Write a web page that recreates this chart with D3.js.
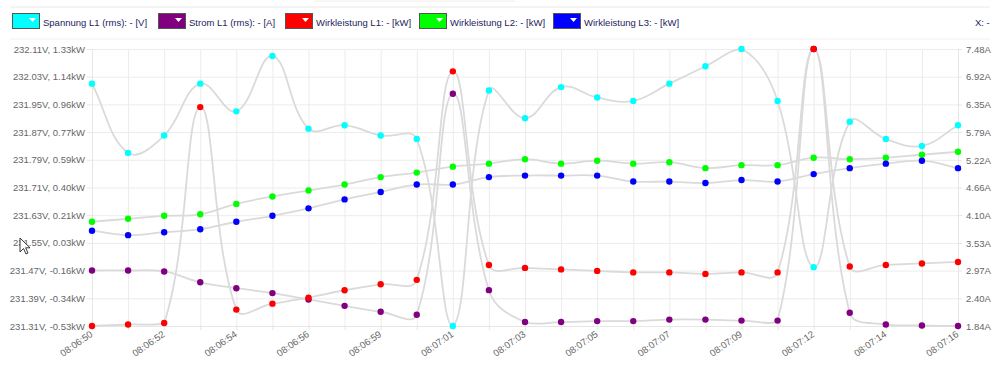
<!DOCTYPE html>
<html>
<head>
<meta charset="utf-8">
<script src="https://cdn.jsdelivr.net/npm/d3@7"></script>
<style>
  body { margin: 0; background: #fff; }
  svg { display: block; font-family: "Liberation Sans", Arial, sans-serif; }
  .axis path, .axis line { stroke: #e6e6e6; }
  .axis text { fill: #666; font-size: 9.5px; }
  .grid line { stroke: #ececec; }
  .grid path { display: none; }
</style>
</head>
<body>
<div id="chart"></div>
<script>
// Zeitstempel der Messpunkte
const times = ["08:06:50", "08:06:51", "08:06:52", "08:06:53", "08:06:54", "08:06:55", "08:06:56",
    "08:06:58", "08:06:59", "08:07:00", "08:07:01", "08:07:02", "08:07:03", "08:07:04", "08:07:05",
    "08:07:06", "08:07:07", "08:07:08", "08:07:09", "08:07:11", "08:07:12", "08:07:13", "08:07:14",
    "08:07:15", "08:07:16"];

const spannungL1 = [232.01, 231.81, 231.86, 232.01, 231.93, 232.09, 231.88, 231.89, 231.86, 231.85, 231.31,
    231.99, 231.91, 232.00, 231.97, 231.96, 232.01, 232.06, 232.11, 231.96, 231.48, 231.90, 231.85, 231.83, 231.89];
const stromL1 = [2.97, 2.97, 2.95, 2.73, 2.61, 2.51, 2.38, 2.25, 2.13, 2.07, 6.57, 2.57, 1.92, 1.92, 1.94,
    1.94, 1.97, 1.97, 1.95, 1.95, 7.48, 2.11, 1.87, 1.85, 1.84];
const wirkL1 = [-0.53, -0.52, -0.51, 0.94, -0.42, -0.38, -0.34, -0.29, -0.25, -0.22, 1.18, -0.12, -0.14,
    -0.15, -0.16, -0.17, -0.17, -0.18, -0.17, -0.17, 1.33, -0.13, -0.12, -0.11, -0.10];
const wirkL2 = [0.17, 0.19, 0.21, 0.22, 0.29, 0.34, 0.38, 0.42, 0.47, 0.50, 0.54, 0.56, 0.59, 0.56, 0.58,
    0.56, 0.57, 0.53, 0.55, 0.55, 0.60, 0.59, 0.60, 0.62, 0.64];
const wirkL3 = [0.11, 0.08, 0.10, 0.12, 0.17, 0.21, 0.26, 0.32, 0.37, 0.42, 0.42, 0.47, 0.48, 0.48, 0.48,
    0.44, 0.44, 0.43, 0.45, 0.44, 0.49, 0.53, 0.56, 0.58, 0.53];

// Achsenbeschriftungen
const voltTicks = [231.31, 231.39, 231.47, 231.55, 231.63, 231.71, 231.79, 231.87, 231.95, 232.03, 232.11];
const kwLabels = ["-0.53", "-0.34", "-0.16", "0.03", "0.21", "0.40", "0.59", "0.77", "0.96", "1.14", "1.33"];
const ampTicks = [1.84, 2.40, 2.97, 3.53, 4.10, 4.66, 5.22, 5.79, 6.35, 6.92, 7.48];

const legendItems = [
    { label: "Spannung L1 (rms): - [V]", color: "#00ffff" },
    { label: "Strom L1 (rms): - [A]", color: "#800080" },
    { label: "Wirkleistung L1: - [kW]", color: "#ff0000" },
    { label: "Wirkleistung L2: - [kW]", color: "#00ff00" },
    { label: "Wirkleistung L3: - [kW]", color: "#0000ff" }
];
const legendX = [12, 158, 285, 419, 553];

const width = 1000, height = 372;
const area = { left: 92, right: 958, top: 49, bottom: 326 };

const svg = d3.select("#chart").append("svg").attr("width", width).attr("height", height);

// Kopfzeile / Legende
svg.append("line").attr("x1", 10).attr("x2", 990).attr("y1", 7).attr("y2", 7).attr("stroke", "#e8e8e8");
svg.append("line").attr("x1", 315).attr("x2", 515).attr("y1", 1).attr("y2", 1).attr("stroke", "#eeeeee");
svg.append("line").attr("x1", 10).attr("x2", 990).attr("y1", 39).attr("y2", 39).attr("stroke", "#f0f0f0");

legendItems.forEach((item, i) => {
    const g = svg.append("g").attr("transform", `translate(${legendX[i]},13)`);
    g.append("rect").attr("x", 0.5).attr("y", 0.5).attr("width", 27).attr("height", 15)
        .attr("fill", item.color).attr("stroke", "#555");
    g.append("path").attr("d", "M17,5 L24,5 L20.5,9 Z").attr("fill", "#fff");
    g.append("text").attr("x", 31).attr("y", 13).attr("font-size", "9.5px").attr("fill", "#1c1c5c")
        .text(item.label);
});
svg.append("text").attr("x", 975).attr("y", 26).attr("font-size", "9.5px").attr("fill", "#1c1c5c").text("X: -");

// Skalen
const x = d3.scalePoint().domain(times).range([area.left, area.right]);
const yV = d3.scaleLinear().domain([231.31, 232.11]).range([area.bottom, area.top]);
const yKW = d3.scaleLinear().domain([-0.53, 1.33]).range([area.bottom, area.top]);
const yA = d3.scaleLinear().domain([1.84, 7.48]).range([area.bottom, area.top]);

// Gitter
svg.append("g").attr("class", "grid").attr("transform", `translate(0,${area.bottom})`)
    .call(d3.axisBottom(x).tickSize(-(area.bottom - area.top) ).tickFormat(""));
svg.append("g").attr("class", "grid").attr("transform", `translate(${area.left},0)`)
    .call(d3.axisLeft(yV).tickValues(voltTicks).tickSize(-(area.right - area.left)).tickFormat(""));

// Achsen
svg.append("g").attr("class", "axis").attr("transform", `translate(${area.left},0)`)
    .call(d3.axisLeft(yV).tickValues(voltTicks).tickSize(5).tickSizeOuter(0).tickPadding(2)
        .tickFormat((d, i) => d.toFixed(2) + "V, " + kwLabels[i] + "kW"));
svg.append("g").attr("class", "axis").attr("transform", `translate(${area.right},0)`)
    .call(d3.axisRight(yA).tickValues(ampTicks).tickSize(4).tickSizeOuter(0).tickPadding(4)
        .tickFormat(d => d.toFixed(2) + "A"));
const xAxis = svg.append("g").attr("class", "axis").attr("transform", `translate(0,${area.bottom})`)
    .call(d3.axisBottom(x).tickSize(4).tickSizeOuter(0).tickFormat((d, i) => i % 2 === 0 ? d : ""));
xAxis.selectAll("text")
    .attr("text-anchor", "end")
    .attr("font-size", "9px")
    .attr("x", 0)
    .attr("y", 0)
    .attr("dy", "0.35em")
    .attr("transform", "translate(-1,7) rotate(-35)");

// Spline wie Chart.js (tension 0.4, Kontrollpunkte im Zeichenbereich gekappt)
function splinePath(pts, t) {
    const cps = pts.map((p, i) => {
        const prev = pts[i - 1] || p, next = pts[i + 1] || p;
        const d01 = Math.hypot(p[0] - prev[0], p[1] - prev[1]);
        const d12 = Math.hypot(next[0] - p[0], next[1] - p[1]);
        let s01 = d01 / (d01 + d12), s12 = d12 / (d01 + d12);
        if (isNaN(s01)) s01 = 0;
        if (isNaN(s12)) s12 = 0;
        const fa = t * s01, fb = t * s12;
        const cap = (cx, cy) => [Math.max(area.left, Math.min(area.right, cx)),
                                 Math.max(area.top, Math.min(area.bottom, cy))];
        return {
            prev: cap(p[0] - fa * (next[0] - prev[0]), p[1] - fa * (next[1] - prev[1])),
            next: cap(p[0] + fb * (next[0] - prev[0]), p[1] + fb * (next[1] - prev[1]))
        };
    });
    const path = d3.path();
    path.moveTo(pts[0][0], pts[0][1]);
    for (let i = 1; i < pts.length; i++) {
        path.bezierCurveTo(cps[i - 1].next[0], cps[i - 1].next[1], cps[i].prev[0], cps[i].prev[1], pts[i][0], pts[i][1]);
    }
    return path.toString();
}

const series = [
    { values: spannungL1, y: yV, color: "#00ffff" },
    { values: stromL1, y: yA, color: "#800080" },
    { values: wirkL1, y: yKW, color: "#ff0000" },
    { values: wirkL2, y: yKW, color: "#00ff00" },
    { values: wirkL3, y: yKW, color: "#0000ff" }
];

series.forEach(s => {
    const pts = s.values.map((v, i) => [x(times[i]), s.y(v)]);
    svg.append("path").attr("d", splinePath(pts, 0.4))
        .attr("fill", "none").attr("stroke", "#dadada").attr("stroke-width", 1.8);
});
series.forEach(s => {
    svg.append("g").selectAll("circle")
        .data(s.values)
        .enter().append("circle")
        .attr("cx", (d, i) => x(times[i]))
        .attr("cy", d => s.y(d))
        .attr("r", 3.2)
        .attr("fill", s.color);
});

// Mauszeiger aus dem Screenshot
svg.append("path")
    .attr("d", "M0,0 L0,14 L3.5,10.5 L6,16 L8,15 L5.6,9.8 L10,9.8 Z")
    .attr("transform", "translate(20,238)")
    .attr("fill", "#fff").attr("stroke", "#222").attr("stroke-width", 0.9);
</script>
</body>
</html>
